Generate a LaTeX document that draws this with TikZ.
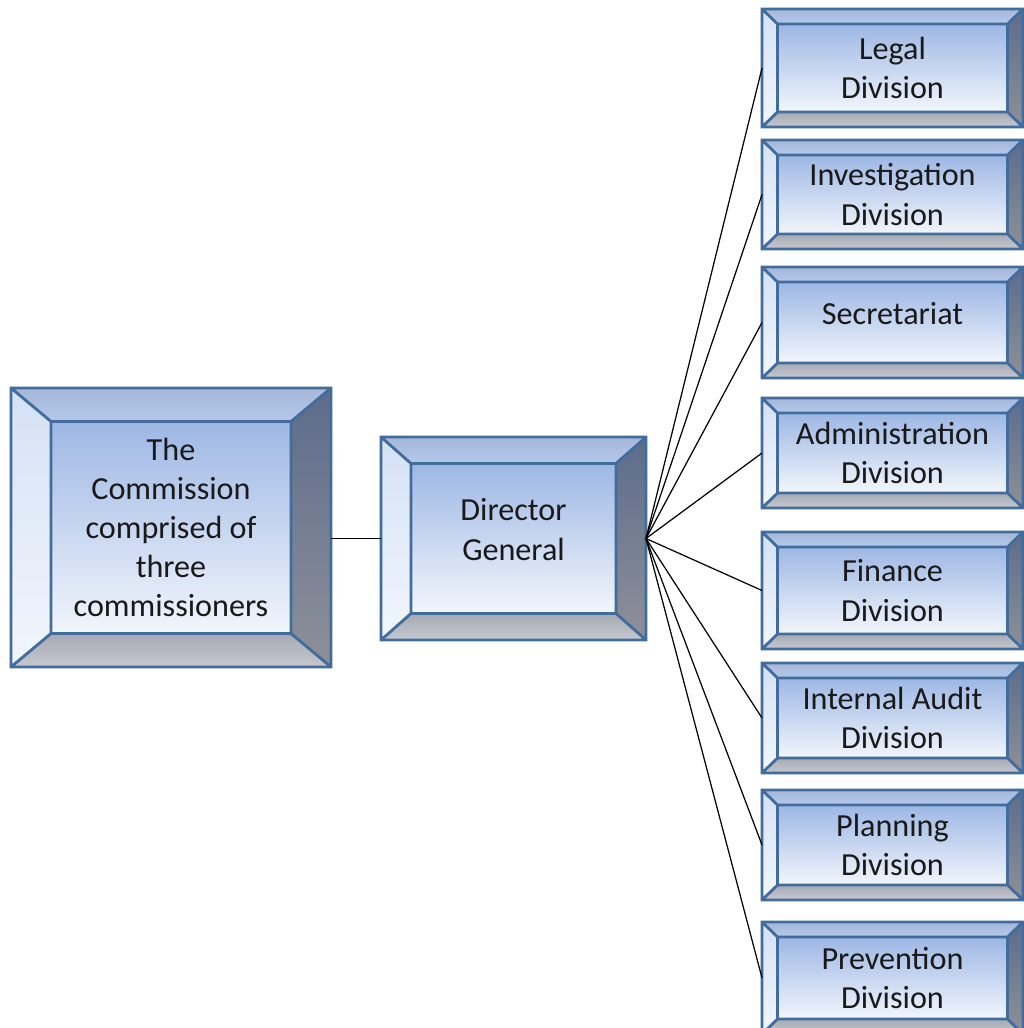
\documentclass[tikz,border=0pt]{standalone}
\usepackage{fontspec}
\setmainfont{Carlito}
\usetikzlibrary{calc,backgrounds}
\definecolor{bvedge}{RGB}{66,108,156}
\definecolor{bvface}{RGB}{157,183,228}
\definecolor{bvlight}{RGB}{242,246,252}
\definecolor{bvtop}{RGB}{180,200,236}
\definecolor{bvleft}{RGB}{212,225,245}
\definecolor{bvright}{RGB}{92,108,140}
\definecolor{bvrightlow}{RGB}{142,144,152}
\definecolor{bvshadow}{RGB}{166,170,180}

% bevelled frame behind a node: #1 node, #2 side width, #3 top/bottom width
\newcommand\bevel[3]{%
 \begin{pgfonlayer}{background}
  \coordinate (#1-nw) at ($(#1.north west)+(#2,-#3)$);
  \coordinate (#1-ne) at ($(#1.north east)+(-#2,-#3)$);
  \coordinate (#1-se) at ($(#1.south east)+(-#2,#3)$);
  \coordinate (#1-sw) at ($(#1.south west)+(#2,#3)$);
  \shade[top color=bvtop!92!black,bottom color=bvtop]
   (#1.north west)--(#1.north east)--(#1-ne)--(#1-nw)--cycle;
  \shade[top color=bvleft,bottom color=bvlight]
   (#1.north west)--(#1-nw)--(#1-sw)--(#1.south west)--cycle;
  \shade[top color=bvright,bottom color=bvrightlow]
   (#1.north east)--(#1.south east)--(#1-se)--(#1-ne)--cycle;
  \shade[top color=bvshadow,bottom color=bvshadow!65!white]
   (#1-sw)--(#1-se)--(#1.south east)--(#1.south west)--cycle;
  \shade[top color=bvface,bottom color=bvlight] (#1-nw) rectangle (#1-se);
  \draw[edge] (#1.north west) rectangle (#1.south east)
   (#1-nw) rectangle (#1-se)
   (#1.north west)--(#1-nw) (#1.north east)--(#1-ne)
   (#1.south east)--(#1-se) (#1.south west)--(#1-sw);
 \end{pgfonlayer}}

\begin{document}
\begin{tikzpicture}[x=0.02cm,y=-0.02cm,line join=round,
  box/.style={inner sep=0pt,outer sep=0pt,align=center,text=black!90,
   font=\fontsize{18.3}{22.3}\selectfont},
  edge/.style={bvedge,line width=1.6pt},
  link/.style={black,line width=0.7pt}]
 \useasboundingbox (0,0) rectangle (1024,1028);

 \node[box,minimum width=6.4cm,minimum height=5.58cm] (cm) at (171,527.5)
  {The\\Commission\\comprised of\\three\\commissioners};
 \bevel{cm}{0.8cm}{0.67cm}

 \node[box,minimum width=5.3cm,minimum height=4.06cm] (dg) at (513.5,538.5)
  {Director\\General\\[-12pt]};
 \bevel{dg}{0.6cm}{0.53cm}
 \draw[link] (dg.west) -- (dg.west -| cm.east);

 % divisions, fanned out from the director general
 \foreach \nm/\ya/\yb/\txt in {
   legal/9/127/{Legal\\Division},
   invest/140/249/{Investigation\\Division},
   secr/267/378/{Secretariat\\[-12pt]},
   admin/398/508/{Administration\\Division},
   fin/532/649/{Finance\\Division},
   audit/663/773/{Internal Audit\\Division},
   plan/790/900/{Planning\\Division},
   prev/922/1034/{Prevention\\Division}}{
  \node[box,minimum width=5.22cm,minimum height={(\yb-\ya)*0.02cm}]
   (\nm) at (892.5,{(\ya+\yb)/2}) {\txt};
  \bevel{\nm}{0.31cm}{0.3cm}
  \draw[link] (dg.east) -- (\nm.west);
 }
\end{tikzpicture}
\end{document}
